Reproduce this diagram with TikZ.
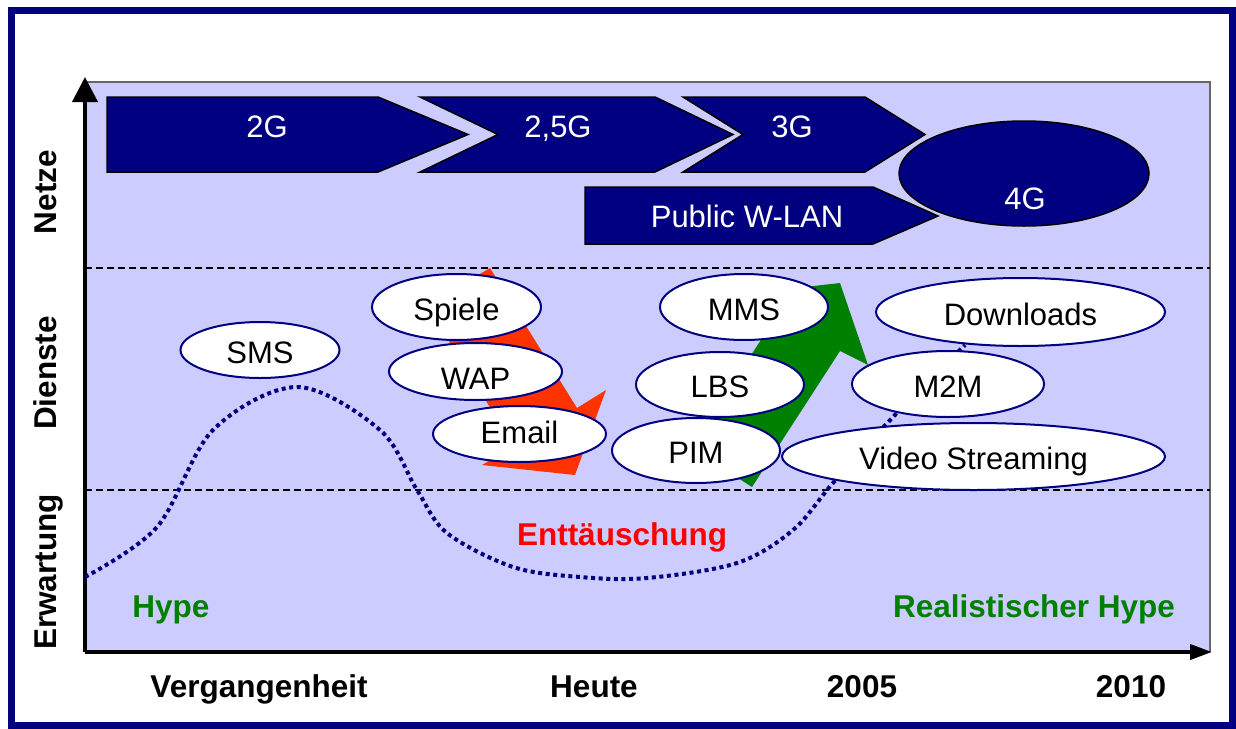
\documentclass[tikz,border=0pt]{standalone}
\usepackage{fontspec}
\setmainfont{Liberation Sans}
\usepackage{xcolor}
\usetikzlibrary{arrows.meta,shapes.geometric}
\definecolor{navy}{RGB}{0,0,128}
\definecolor{lav}{RGB}{204,204,255}
\definecolor{hyperot}{RGB}{255,51,0}
\definecolor{hypegruen}{RGB}{0,128,0}
\newcommand{\chartfont}{\fontsize{31}{36}\selectfont}
\newcommand{\chartbold}{\fontsize{31.5}{36}\selectfont\bfseries}

\begin{document}
\begin{tikzpicture}[
  x=1pt, y=-1pt,
  % ---- styles ----
  genbox/.style={draw=black, fill=navy, line width=1.5pt},
  gentext/.style={text=white, font=\chartfont, anchor=base, inner sep=0pt},
  svcbox/.style={
    ellipse, draw=navy, fill=white, line width=2pt,
    inner sep=0pt, text height=26pt, text depth=0pt, font=\chartfont
  },
  axislabel/.style={font=\chartbold, rotate=90, anchor=base, inner sep=0pt},
  timelabel/.style={font=\chartbold, anchor=base, inner sep=0pt},
  hypecurve/.style={navy, line width=4pt, dash pattern=on 4pt off 3.6pt},
  sepline/.style={black, line width=1.5pt, dash pattern=on 7pt off 4pt},
]
\useasboundingbox (0,0) rectangle (1236,728);

% ---- frame and plot area ----
\draw[navy, line width=7pt] (11,10) rectangle (1232,725);
\fill[lav] (85,82) rectangle (1210,652);
\draw[black!60, line width=1.5pt] (85,82) -- (1210,82) -- (1210,652);
\draw[sepline] (85,268) -- (1210,268);
\draw[sepline] (85,490) -- (1210,490);

% ---- axes ----
\coordinate (origin) at (85,652);
\coordinate (ytop)   at (85,77);
\coordinate (xend)   at (1212,652);
\draw[line width=4pt, -{Triangle[length=25pt,width=25pt]}] (origin) -- (ytop);
\draw[line width=4pt, -{Triangle[length=22pt,width=15pt]}] (origin) -- (xend);

% ---- hype curve ----
\draw[hypecurve] plot[smooth, tension=0.55] coordinates {
  (85,577) (157,527) (213,430) (297,387) (380,430) (417,490) (447,533)
  (513,567) (580,577) (647,578) (737,563) (793,530) (833,483) (893,417)
  (965,345)};

% ---- trend arrows ----
\fill[hyperot] (490,268) -- (577,408) -- (606,390) -- (575,475)
  -- (482,465) -- (514,446) -- (427,306) -- cycle;
\fill[hypegruen] (752,487) -- (840,351) -- (868,365) -- (840,283)
  -- (751,293) -- (779,312) -- (691,448) -- cycle;

% ---- Netze ----
\draw[genbox] (107,97) -- (378,97) -- (468,134.5) -- (378,172) -- (107,172) -- cycle;
\node[gentext] (gen2) at (267,137) {2G};
\draw[genbox] (420,97) -- (655,97) -- (733,134.5) -- (655,172) -- (420,172) -- (498,134.5) -- cycle;
\node[gentext] (gen25) at (558,137) {2,5G};
\draw[genbox] (683,97) -- (865,97) -- (925,134.5) -- (865,172) -- (683,172) -- (743,134.5) -- cycle;
\node[gentext] (gen3) at (792,137) {3G};
\node[ellipse, draw=black, fill=navy, line width=1.5pt, inner sep=0pt,
  minimum width=250pt, minimum height=105pt] (gen4) at (1024,173.5) {};
\node[gentext] (gen4txt) at (1025,209) {4G};
\draw[genbox] (585,187) -- (873,187) -- (938,216) -- (873,244) -- (585,244) -- cycle;
\node[gentext] (wlan) at (747,227) {Public W-LAN};

% ---- Dienste ----
\node[svcbox, minimum width=159pt, minimum height=56pt] (sms) at (260,350) {SMS};
\node[svcbox, minimum width=169pt, minimum height=66pt] (spiele) at (456.5,307) {Spiele};
\node[svcbox, minimum width=173pt, minimum height=57pt, text height=35pt] (wap) at (475.5,371.5) {WAP};
\node[svcbox, minimum width=173pt, minimum height=56pt, text height=18pt] (email) at (519.5,434) {Email};
\node[svcbox, minimum width=168pt, minimum height=66pt] (mms) at (744,307) {MMS};
\node[svcbox, minimum width=168pt, minimum height=65pt] (lbs) at (720,384.5) {LBS};
\node[svcbox, minimum width=168pt, minimum height=65pt] (pim) at (696,450.5) {PIM};
\node[svcbox, minimum width=289pt, minimum height=68pt] (downloads) at (1020.5,312) {Downloads};
\node[svcbox, minimum width=192pt, minimum height=66pt] (m2m) at (948,384) {M2M};
\node[svcbox, minimum width=383pt, minimum height=67pt] (video) at (973.5,456.5) {Video Streaming};

% ---- Erwartung ----
\node[timelabel, text=hypegruen] (hype) at (171,617) {Hype};
\node[timelabel, text=red] (entt) at (622,545) {Enttäuschung};
\node[timelabel, text=hypegruen] (realhype) at (1034,617) {Realistischer Hype};

% ---- axis labels ----
\node[axislabel] (netze) at (56,192) {Netze};
\node[axislabel] (dienste) at (56,373) {Dienste};
\node[axislabel] (erwartung) at (56,572) {Erwartung};
\node[timelabel] (verg) at (259,697) {Vergangenheit};
\node[timelabel] (heute) at (594,697) {Heute};
\node[timelabel] (j2005) at (862,697) {2005};
\node[timelabel] (j2010) at (1131,697) {2010};

\end{tikzpicture}
\end{document}
